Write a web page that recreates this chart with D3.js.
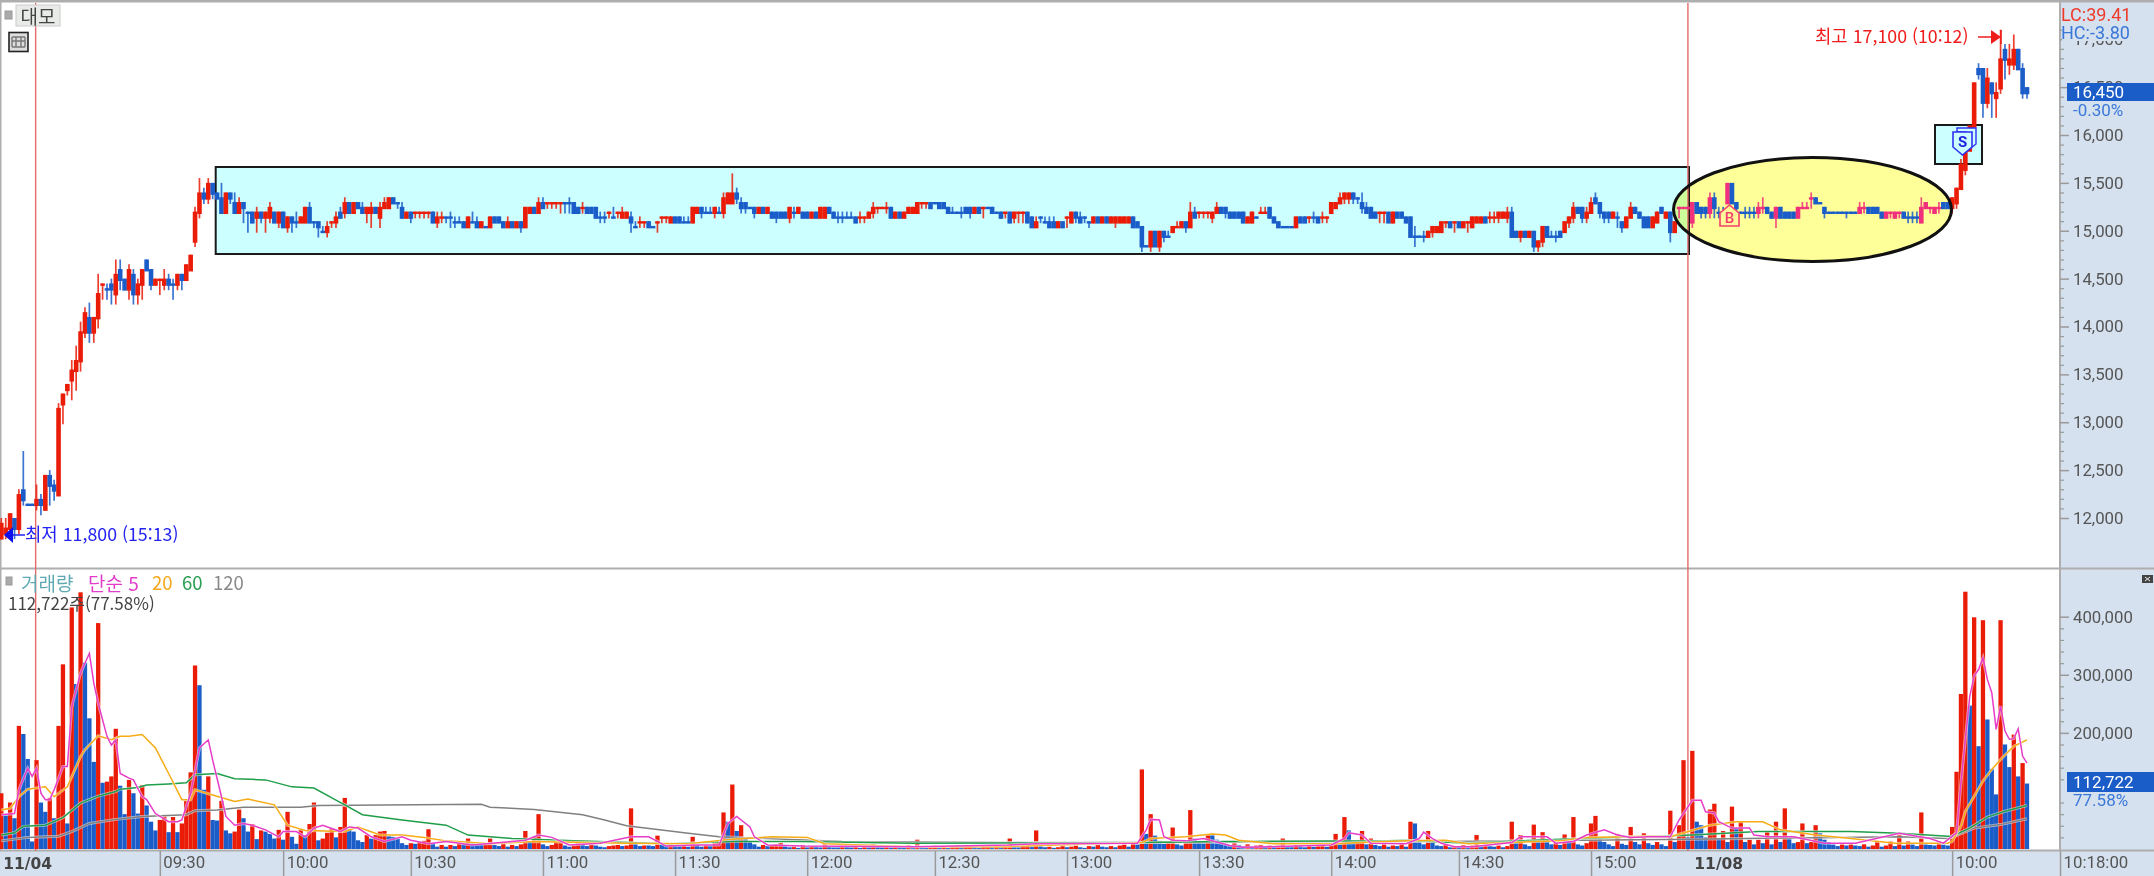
<!DOCTYPE html>
<html lang="ko"><head><meta charset="utf-8">
<script src="https://cdn.jsdelivr.net/npm/d3@7/dist/d3.min.js"></script>
<style>html,body{margin:0;padding:0;background:#fff}svg{display:block;filter:blur(.4px)}text{font-family:Roboto,"Noto Sans CJK KR",sans-serif}</style>
</head><body><svg id="c" width="2154" height="876"></svg>
<script>
const opens=[
11800,11850,11900,12000,11900,12300,12150,12150,12150,12200,
12100,12450,12350,12250,13200,13350,13450,13550,13650,13950,
14100,13950,14100,14450,14400,14450,14350,14600,14500,14400,
14550,14350,14450,14700,14600,14450,14500,14450,14500,14450,
14450,14550,14500,14600,14900,15200,15400,15350,15500,15400,
15350,15200,15400,15300,15200,15300,15200,15200,15150,15200,
15150,15150,15200,15100,15200,15050,15150,15100,15100,15100,
15250,15100,15100,15000,15000,15100,15100,15200,15200,15300,
15200,15300,15250,15200,15200,15250,15150,15250,15250,15350,
15300,15250,15150,15200,15200,15200,15200,15200,15200,15100,
15150,15150,15150,15100,15100,15100,15050,15100,15100,15050,
15050,15050,15150,15150,15100,15050,15100,15050,15100,15050,
15200,15250,15200,15300,15300,15300,15300,15300,15300,15300,
15300,15250,15250,15250,15250,15250,15150,15150,15200,15150,
15200,15150,15150,15150,15050,15100,15100,15100,15050,15100,
15150,15150,15100,15150,15150,15100,15100,15100,15200,15250,
15200,15200,15200,15200,15200,15300,15300,15400,15300,15300,
15250,15250,15200,15250,15200,15200,15200,15200,15200,15150,
15200,15200,15200,15200,15150,15200,15150,15150,15250,15200,
15150,15150,15150,15150,15150,15150,15150,15150,15200,15250,
15250,15250,15250,15150,15200,15150,15200,15200,15200,15300,
15300,15300,15300,15300,15300,15250,15200,15200,15200,15250,
15250,15200,15250,15250,15250,15250,15200,15200,15200,15200,
15150,15200,15200,15200,15150,15050,15150,15100,15100,15100,
15050,15100,15150,15100,15200,15150,15150,15100,15100,15150,
15100,15150,15100,15100,15100,15100,15100,15150,15100,15050,
14850,14850,15000,14850,15000,14950,15000,15050,15050,15100,
15050,15200,15200,15200,15200,15150,15200,15250,15250,15200,
15200,15200,15200,15100,15100,15150,15200,15200,15250,15150,
15100,15050,15050,15050,15050,15150,15150,15150,15150,15150,
15150,15150,15200,15250,15300,15350,15350,15400,15350,15300,
15250,15250,15200,15200,15200,15200,15100,15200,15200,15150,
15150,14950,14950,14950,14950,15000,15000,15000,15100,15100,
15100,15100,15050,15100,15050,15100,15100,15150,15150,15150,
15150,15150,15150,15200,15000,14950,15000,14950,15000,14850,
14900,15050,14950,14950,15000,15000,15100,15150,15250,15250,
15150,15200,15350,15300,15200,15200,15150,15150,15100,15050,
15150,15250,15200,15150,15150,15050,15100,15250,15150,15200,
15000,15250,15250,15250,15100,15300,15250,15250,15200,15350,
15200,15200,15300,15500,15300,15200,15200,15200,15200,15200,
15250,15250,15200,15150,15250,15200,15200,15200,15150,15250,
15250,15350,15350,15300,15250,15200,15200,15200,15200,15200,
15200,15200,15200,15250,15250,15250,15250,15200,15150,15200,
15150,15200,15200,15150,15150,15150,15100,15250,15250,15200,
15250,15300,15300,15250,15300,15450,15650,15850,16100,16700,
16700,16350,16550,16400,16500,16900,16750,16750,16900,16700,
16500];
const closes=[
11950,11900,12050,11900,12250,12200,12150,12150,12200,12150,
12450,12350,12300,13150,13300,13400,13550,13650,13950,14150,
13950,14100,14350,14450,14400,14400,14550,14500,14400,14600,
14350,14450,14600,14600,14450,14500,14500,14500,14450,14450,
14550,14500,14650,14750,15200,15400,15350,15500,15400,15350,
15200,15400,15350,15200,15300,15250,15200,15100,15200,15150,
15200,15250,15100,15200,15050,15150,15100,15100,15150,15250,
15100,15100,15050,15000,15050,15100,15150,15150,15300,15200,
15300,15250,15200,15250,15250,15200,15250,15300,15350,15300,
15300,15150,15200,15150,15200,15200,15200,15200,15100,15150,
15150,15150,15150,15100,15100,15050,15150,15100,15050,15100,
15050,15150,15100,15100,15050,15100,15050,15100,15050,15250,
15250,15200,15300,15250,15300,15300,15300,15300,15300,15300,
15200,15200,15250,15200,15200,15150,15150,15150,15200,15150,
15200,15200,15200,15100,15050,15100,15100,15050,15050,15100,
15150,15150,15150,15100,15100,15100,15100,15250,15250,15200,
15200,15200,15250,15200,15350,15400,15400,15350,15250,15250,
15250,15200,15250,15200,15250,15150,15150,15150,15150,15250,
15200,15250,15150,15150,15200,15150,15250,15250,15200,15150,
15150,15150,15150,15150,15100,15150,15150,15200,15250,15250,
15250,15250,15150,15200,15150,15200,15250,15250,15300,15300,
15300,15250,15300,15250,15250,15200,15200,15200,15200,15200,
15200,15250,15200,15250,15250,15200,15200,15150,15200,15100,
15200,15200,15200,15100,15050,15100,15150,15100,15050,15050,
15100,15050,15150,15200,15150,15100,15150,15100,15150,15100,
15150,15100,15150,15150,15150,15150,15150,15050,15050,14850,
14850,15000,14850,15000,14950,14950,15050,15050,15100,15050,
15200,15150,15200,15200,15200,15200,15250,15200,15200,15150,
15150,15150,15100,15150,15200,15150,15200,15200,15150,15100,
15050,15050,15050,15050,15150,15100,15100,15150,15150,15100,
15150,15150,15300,15300,15350,15400,15400,15350,15350,15250,
15200,15150,15150,15200,15200,15100,15200,15150,15150,15100,
14950,14950,14950,14950,15000,15050,15050,15100,15100,15050,
15100,15050,15100,15100,15150,15150,15150,15100,15150,15150,
15200,15200,15200,14950,14950,15000,14950,15000,14850,14900,
15050,14950,14950,14950,14950,15100,15150,15250,15200,15150,
15200,15300,15300,15200,15150,15150,15200,15150,15050,15150,
15250,15200,15150,15050,15050,15150,15200,15200,15200,15000,
15100,15250,15250,15250,15300,15200,15200,15200,15350,15250,
15200,15200,15500,15300,15250,15200,15200,15200,15200,15250,
15250,15200,15150,15250,15150,15150,15150,15150,15250,15250,
15250,15350,15300,15300,15200,15200,15200,15200,15200,15200,
15200,15200,15250,15250,15200,15200,15200,15150,15200,15200,
15200,15200,15150,15150,15150,15150,15250,15300,15250,15250,
15250,15250,15250,15350,15450,15700,15850,16100,16550,16650,
16350,16600,16450,16450,16800,16800,16800,16900,16700,16450,
16450];
const highs=[
12000,12000,12050,12000,12300,12700,12150,12150,12350,12250,
12450,12500,12400,13200,13300,13400,13650,13800,14050,14200,
14250,14100,14550,14450,14450,14500,14700,14700,14500,14650,
14600,14500,14600,14700,14600,14500,14500,14600,14550,14500,
14550,14550,14650,14750,15250,15550,15450,15550,15500,15400,
15500,15400,15400,15400,15350,15300,15200,15200,15250,15200,
15200,15300,15200,15200,15200,15150,15150,15200,15150,15250,
15300,15100,15100,15050,15100,15100,15200,15250,15350,15300,
15300,15300,15300,15250,15300,15250,15300,15350,15350,15350,
15300,15300,15200,15200,15200,15200,15200,15200,15200,15200,
15200,15150,15200,15150,15150,15100,15150,15200,15150,15100,
15050,15150,15150,15150,15100,15150,15100,15100,15100,15250,
15250,15250,15350,15350,15300,15300,15300,15300,15300,15350,
15300,15250,15300,15250,15250,15250,15200,15200,15200,15250,
15200,15250,15200,15200,15100,15150,15100,15100,15050,15100,
15150,15150,15150,15150,15150,15150,15150,15250,15250,15250,
15250,15250,15250,15250,15400,15400,15600,15450,15350,15300,
15250,15250,15250,15250,15250,15200,15200,15200,15200,15250,
15250,15250,15200,15200,15200,15200,15250,15250,15250,15200,
15200,15200,15200,15200,15150,15200,15150,15200,15300,15250,
15250,15300,15250,15200,15200,15200,15250,15250,15300,15300,
15300,15300,15300,15300,15300,15250,15250,15200,15250,15250,
15250,15250,15250,15250,15250,15250,15200,15200,15200,15200,
15200,15200,15200,15200,15150,15150,15150,15150,15150,15150,
15100,15100,15150,15200,15200,15200,15150,15100,15150,15150,
15150,15150,15150,15150,15150,15150,15150,15150,15100,15050,
14850,15000,15000,15000,15000,15000,15050,15100,15100,15100,
15300,15250,15200,15200,15200,15200,15300,15250,15250,15200,
15200,15200,15200,15150,15200,15150,15250,15250,15250,15150,
15100,15050,15050,15050,15150,15150,15150,15150,15200,15150,
15200,15150,15300,15300,15400,15400,15400,15400,15350,15400,
15300,15250,15200,15200,15200,15200,15200,15200,15200,15150,
15150,15050,14950,15000,15000,15050,15050,15100,15100,15100,
15100,15100,15100,15100,15150,15150,15150,15150,15200,15200,
15200,15200,15250,15250,15000,15000,15000,15000,15000,14900,
15050,15050,15000,15000,15000,15100,15150,15300,15250,15250,
15250,15350,15400,15300,15200,15200,15200,15200,15100,15150,
15300,15250,15200,15150,15150,15150,15200,15250,15200,15200,
15100,15250,15250,15250,15300,15300,15250,15250,15400,15400,
15250,15250,15500,15500,15300,15200,15250,15250,15250,15300,
15350,15250,15200,15250,15250,15200,15200,15200,15250,15300,
15300,15400,15350,15300,15250,15200,15200,15200,15200,15200,
15200,15200,15300,15300,15250,15250,15250,15200,15200,15200,
15200,15200,15200,15200,15200,15200,15350,15300,15250,15250,
15300,15300,15300,15350,15450,15750,15850,16100,16550,16750,
16700,16700,16550,16550,17100,16950,16950,17050,16900,16750,
16500];
const lows=[
11800,11800,11850,11800,11850,12150,12150,12150,12100,12050,
12100,12150,12200,12250,13000,13300,13250,13350,13550,13900,
13850,13850,14000,14300,14300,14250,14250,14400,14400,14300,
14250,14250,14300,14600,14400,14450,14350,14400,14400,14300,
14400,14400,14500,14600,14850,15150,15300,15300,15350,15350,
15200,15200,15300,15200,15200,15100,15000,15100,15000,15100,
15000,15100,15100,15050,15050,15000,15000,15050,15100,15100,
15100,15050,14950,15000,14950,15050,15050,15150,15150,15200,
15200,15250,15200,15100,15050,15200,15050,15250,15250,15300,
15250,15150,15150,15100,15150,15150,15150,15150,15100,15050,
15100,15100,15050,15050,15100,15050,15050,15100,15050,15050,
15050,15050,15100,15100,15050,15050,15050,15050,15000,15050,
15200,15200,15200,15250,15250,15250,15250,15200,15200,15200,
15200,15200,15200,15200,15200,15150,15100,15100,15150,15150,
15150,15150,15150,15000,15050,15050,15050,15050,15050,15000,
15100,15100,15100,15100,15100,15100,15100,15100,15200,15150,
15200,15200,15150,15200,15150,15300,15300,15300,15200,15200,
15250,15150,15200,15200,15200,15150,15100,15150,15150,15100,
15150,15200,15150,15150,15150,15150,15150,15150,15200,15150,
15100,15100,15150,15150,15100,15100,15100,15150,15150,15200,
15250,15200,15150,15150,15150,15150,15200,15200,15200,15250,
15250,15250,15300,15250,15250,15200,15200,15200,15150,15200,
15150,15200,15200,15150,15250,15200,15200,15150,15150,15100,
15100,15100,15100,15100,15050,15050,15100,15100,15050,15050,
15050,15050,15050,15100,15100,15100,15100,15050,15100,15100,
15100,15100,15100,15050,15100,15100,15100,15050,15050,14800,
14850,14800,14850,14800,14900,14950,15000,15050,15050,15000,
15050,15150,15150,15150,15150,15100,15200,15200,15150,15150,
15150,15150,15100,15100,15100,15150,15200,15200,15150,15100,
15050,15050,15050,15050,15050,15100,15100,15100,15100,15100,
15100,15100,15200,15250,15300,15300,15300,15300,15300,15200,
15200,15150,15150,15100,15100,15100,15100,15150,15150,15100,
14950,14850,14950,14900,14950,14950,15000,15000,15050,15050,
15000,15050,15050,15000,15050,15100,15100,15100,15100,15100,
15100,15150,15100,14950,14950,14900,14950,14950,14800,14800,
14850,14950,14950,14900,14950,15000,15050,15100,15200,15100,
15100,15200,15300,15150,15100,15100,15150,15050,15000,15050,
15150,15200,15150,15050,15050,15050,15100,15200,15150,14900,
15000,15150,15250,15250,15050,15200,15150,15150,15150,15150,
15150,15150,15300,15300,15150,15200,15150,15150,15150,15150,
15200,15200,15150,15050,15150,15150,15150,15150,15150,15250,
15250,15250,15300,15300,15150,15200,15200,15200,15200,15150,
15200,15200,15200,15200,15200,15200,15200,15150,15150,15150,
15150,15150,15150,15100,15100,15100,15100,15250,15200,15200,
15200,15250,15250,15200,15250,15450,15600,15850,16100,16600,
16200,16300,16200,16200,16450,16600,16650,16700,16700,16400,
16400];
// bars whose open equals close but which printed as an up tick
const upDoji=[23,36,75,94,95,96,97,100,124,125,126,127,132,138,140,145,146,149,150,151,195,196,199,200,201,209,210,223,228,231,232,242,267,272,273,274,286,287,297,300,301,313,314,328,330,333,338,339,381,382,383,400,409,410,411,423,429,431,438,440];
// volume in thousands of shares
const volumes=[
96,58,80,53,212,198,155,13,153,80,
64,88,53,212,318,44,416,284,442,321,
225,150,389,114,116,125,207,109,60,119,
96,61,110,75,47,32,50,56,29,55,
29,44,83,132,316,282,102,125,50,49,
83,32,27,30,68,53,30,43,17,32,
30,26,18,33,16,64,21,9,33,24,
43,80,15,18,28,35,20,38,88,34,
30,15,12,24,18,24,30,31,22,21,
18,10,7,10,9,12,14,34,10,4,
7,4,7,5,10,8,18,10,8,7,
10,18,7,5,10,4,7,5,8,31,
12,21,60,8,5,7,12,15,6,4,
6,10,8,5,7,6,4,3,5,6,
7,5,6,70,10,5,6,6,5,23,
8,6,10,7,5,6,4,21,7,4,
6,5,10,12,63,47,111,31,41,20,
12,8,4,7,5,6,8,10,5,3,
4,2,7,3,5,4,3,8,5,3,
3,5,4,3,6,2,4,3,8,4,
3,5,3,6,4,3,7,4,16,5,
3,4,6,3,5,2,4,6,3,4,
5,3,2,4,6,3,4,3,5,18,
4,3,5,6,4,32,5,3,4,2,
3,5,3,4,6,3,2,5,4,7,
4,3,5,3,6,8,4,12,8,137,
26,60,23,14,9,12,37,8,6,12,
67,18,14,10,24,24,16,12,8,6,
10,7,5,8,4,6,7,5,6,4,
6,18,5,4,7,5,3,6,4,5,
7,4,6,26,8,55,32,10,14,31,
8,18,7,5,8,4,6,5,10,4,
47,44,14,8,31,14,6,5,8,3,
5,4,7,3,6,24,4,7,5,4,
6,3,5,47,10,24,8,5,42,14,
29,12,8,10,7,25,14,55,8,6,
10,44,57,18,12,8,5,26,9,7,
38,12,8,27,10,7,12,8,5,66,
12,41,153,20,169,47,41,20,68,78,
18,31,12,73,36,47,12,16,8,16,
10,30,8,47,12,70,18,10,12,44,
10,12,41,27,16,12,8,5,8,6,
8,6,5,8,4,6,13,4,6,13,
5,25,6,13,8,5,63,8,7,6,
13,8,6,38,133,267,443,247,399,177,
394,223,138,94,394,180,141,197,125,148,112.722];
const ma5Bars=[0,3,4,6,7,8,9,10,11,12,14,15,16,18,20,21,22,24,25,26,27,29,30,32,33,35,38,40,41,43,45,47,48,50,51,53,55,57,60,63,64,67,69,71,73,77,79,81,84,87,91,93,97,101,107,119,122,125,129,136,143,147,151,158,163,165,167,170,171,174,182,207,229,235,258,260,261,263,264,266,269,273,276,279,282,288,302,305,306,309,311,319,322,323,325,327,330,334,343,345,351,353,357,360,364,367,370,374,379,381,384,386,387,389,390,393,397,398,401,407,414,421,431,438,441,444,445,446,447,448,449,450,451,452,453,454,455,456,457,458,459,460];
const ma5Vals=[59,61,102,139,125,139,96,85,85,102,142,142,245,303,337,286,251,194,179,188,130,122,119,90,85,61,47,47,50,96,174,188,153,90,56,41,44,41,33,21,30,30,21,36,41,30,38,36,21,13,21,15,9,13,7,15,24,20,7,10,21,21,5,7,7,44,56,38,21,7,5,4,7,9,10,33,51,50,21,15,14,18,12,6,3,4,7,18,28,24,10,9,18,29,18,10,4,4,11,21,21,10,13,24,33,24,20,21,21,50,84,84,64,62,47,36,36,24,21,21,10,10,27,18,10,28,114,189,263,298,309,329,292,269,206,246,203,189,190,207,160,148];
const ma20Bars=[0,2,4,6,10,12,15,18,19,22,25,27,29,32,35,38,41,43,44,48,53,56,62,65,69,78,81,86,91,96,101,111,121,142,156,166,175,183,187,207,227,259,261,269,275,278,281,289,303,309,319,328,333,354,360,374,379,388,394,400,404,412,420,430,442,443,445,446,448,450,452,454,457,460];
const ma20Vals=[67,70,90,103,107,90,107,159,171,195,188,194,194,197,174,130,85,85,102,93,82,86,76,41,32,30,38,24,24,20,14,9,13,10,9,17,21,20,9,4,4,11,18,21,26,24,15,9,9,11,14,15,9,14,20,22,21,41,47,47,33,24,18,10,10,13,39,65,91,117,137,154,177,188];
const ma60Bars=[0,3,5,10,14,18,22,26,27,31,33,38,42,44,49,53,60,66,71,76,78,82,91,101,106,116,130,152,166,181,207,258,278,315,319,333,354,384,399,420,431,442,443,447,451,455,460];
const ma60Vals=[24,28,39,41,54,79,91,99,103,106,110,112,114,128,130,121,119,107,105,84,76,59,50,41,24,18,14,9,13,13,10,11,13,14,15,10,17,24,30,30,27,22,22,36,55,65,75];
const ma120Bars=[0,6,13,16,20,26,32,42,44,49,55,68,72,109,111,121,132,137,142,156,163,191,227,258,315,328,384,431,442,443,448,454,460];
const ma120Vals=[14,20,22,30,44,51,56,59,66,67,72,72,75,77,72,68,59,50,40,27,21,13,11,11,13,13,17,21,18,20,36,42,52];
const priceTicks=[12000,12500,13000,13500,14000,14500,15000,15500,16000,16500,17000];
const volumeTicks=[200,300,400];
const timeBars=[36,64,93,123,153,183,212,242,272,302,331,361,443,467.5];
const timeLabels=["09:30","10:00","10:30","11:00","11:30","12:00","12:30","13:00","13:30","14:00","14:30","15:00","10:00","10:18:00"];
const dateBars=[0,384];
const dateLabels=["11/04","11/08"];
const sessionBars=[7.8,383];

const RED="#ea1c08",BLUE="#1a5cc8",PINK="#f0307c",PANEL="#d6e1ef",GRID="#aeaeae";
const svg=d3.select("#c");
const x=d3.scaleLinear().domain([0,460]).range([1.3,2027]);
const y=d3.scaleLinear().domain([12000,16000]).range([518,135]);
const yV=d3.scaleLinear().domain([0,400]).range([849,616.7]);
const n=opens.length;
const isUp=i=>closes[i]>opens[i]||(closes[i]===opens[i]&&upDoji.includes(i));
const pinkZone=i=>i>=381&&i<=442;
const candleColor=i=>isUp(i)?(pinkZone(i)?PINK:RED):BLUE;

// panels
svg.append("rect").attr("x",2060).attr("y",0).attr("width",94).attr("height",876).attr("fill",PANEL);
svg.append("rect").attr("x",0).attr("y",851).attr("width",2154).attr("height",25).attr("fill",PANEL);
svg.append("rect").attr("x",0).attr("y",0).attr("width",2154).attr("height",2.5).attr("fill",GRID);
svg.append("rect").attr("x",0).attr("y",0).attr("width",1.5).attr("height",851).attr("fill",GRID);
svg.append("rect").attr("x",0).attr("y",567.5).attr("width",2154).attr("height",2).attr("fill",GRID);
svg.append("rect").attr("x",0).attr("y",849.5).attr("width",2154).attr("height",2).attr("fill",GRID);
svg.append("rect").attr("x",2059).attr("y",0).attr("width",2).attr("height",851).attr("fill",GRID);

// overlay boxes
const boxStyle=s=>s.attr("fill","#ccffff").attr("stroke","#1a1a1a").attr("stroke-width",2);
svg.append("rect").attr("x",215.7).attr("y",167).attr("width",1473.3).attr("height",87).call(boxStyle);
svg.append("rect").attr("x",1935).attr("y",125).attr("width",47).attr("height",39).call(boxStyle);
const ell={cx:1812.5,cy:209.5,rx:139,ry:52};
svg.append("ellipse").attr("cx",ell.cx).attr("cy",ell.cy).attr("rx",ell.rx).attr("ry",ell.ry).attr("fill","#ffff99").style("mix-blend-mode","multiply");

// session lines
svg.selectAll("line.session").data(sessionBars).join("line").attr("class","session")
 .attr("x1",d=>x(d)).attr("x2",d=>x(d)).attr("y1",3).attr("y2",851).attr("stroke","#e56a6a").attr("stroke-width",1.4);

// candles
const idx=d3.range(n);
svg.append("g").selectAll("line").data(idx).join("line")
 .attr("x1",i=>x(i)).attr("x2",i=>x(i)).attr("y1",i=>y(highs[i])).attr("y2",i=>y(lows[i])+2)
 .attr("stroke",candleColor).attr("stroke-width",1.7).attr("stroke-opacity",.85);
svg.append("g").selectAll("rect").data(idx).join("rect")
 .attr("x",i=>x(i)-2.3).attr("width",4.6)
 .attr("y",i=>y(Math.max(opens[i],closes[i])))
 .attr("height",i=>Math.abs(y(opens[i])-y(closes[i]))+2.4)
 .attr("fill",candleColor);
svg.append("ellipse").attr("cx",ell.cx).attr("cy",ell.cy).attr("rx",ell.rx).attr("ry",ell.ry).attr("fill","none").attr("stroke","#111").attr("stroke-width",3);

// volume bars: red when volume rose from the previous bar, blue when it fell
svg.append("g").selectAll("rect").data(idx).join("rect")
 .attr("x",i=>x(i)-2.15).attr("width",4.3)
 .attr("y",i=>yV(volumes[i])).attr("height",i=>yV(0)-yV(volumes[i]))
 .attr("fill",i=>i>0&&volumes[i]<=volumes[i-1]?BLUE:RED);

// volume moving averages
const ln=(bars,vals)=>d3.line().x(d=>x(d)).y((d,k)=>yV(vals[k]))(bars);
[[ma120Bars,ma120Vals,"#808080"],[ma60Bars,ma60Vals,"#1f9e4a"],[ma20Bars,ma20Vals,"#f7ab14"],[ma5Bars,ma5Vals,"#e63cc8"]].forEach(([b,v,c])=>{
 svg.append("path").attr("d",ln(b,v)).attr("fill","none").attr("stroke","#fff").attr("stroke-opacity",.55).attr("stroke-width",3);
 svg.append("path").attr("d",ln(b,v)).attr("fill","none").attr("stroke",c).attr("stroke-width",1.5);
});

// price axis
const AX="#555";
const fmt=d3.format(",");
const styleAxis=g=>{g.select(".domain").remove();g.selectAll(".tick line").attr("stroke","#9a9a9a").attr("stroke-width",1.5);
 g.selectAll(".tick text").attr("fill",AX).attr("font-size",16.8).attr("font-family","Roboto");};
svg.append("g").attr("transform","translate(2060,0)")
 .call(d3.axisRight(y).tickValues(d3.range(12000,17200,100).filter(v=>v%500!==0)).tickSize(4).tickFormat(""))
 .call(g=>{g.select(".domain").remove();g.selectAll("line").attr("stroke","#9a9a9a").attr("stroke-width",1.2);});
svg.append("g").attr("transform","translate(2060,0)")
 .call(d3.axisRight(y).tickValues(priceTicks).tickSize(9).tickPadding(4).tickFormat(fmt)).call(styleAxis);
svg.append("g").attr("transform","translate(2060,0)")
 .call(d3.axisRight(yV).tickValues(d3.range(20,420,20).filter(v=>v%100!==0)).tickSize(4).tickFormat(""))
 .call(g=>{g.select(".domain").remove();g.selectAll("line").attr("stroke","#9a9a9a").attr("stroke-width",1.2);});
svg.append("g").attr("transform","translate(2060,0)")
 .call(d3.axisRight(yV).tickValues(volumeTicks).tickSize(9).tickPadding(4).tickFormat(d=>fmt(d*1000))).call(styleAxis);

// time axis
svg.append("g").attr("transform","translate(0,851)")
 .call(d3.axisBottom(x).tickValues(timeBars).tickSize(25).tickPadding(0).tickFormat((d,k)=>timeLabels[k]))
 .call(g=>{g.select(".domain").remove();g.selectAll(".tick line").attr("stroke","#9a9a9a").attr("stroke-width",1.5);
  g.selectAll(".tick text").attr("fill",AX).attr("font-size",16.8).attr("text-anchor","start").attr("x",3).attr("y",5).attr("dy",".71em");});
svg.append("g").selectAll("text").data(dateBars).join("text")
 .attr("x",d=>x(d)+2).attr("y",869).attr("font-size",15.5).attr("font-weight",700).attr("fill","#444")
 .style("font-family","DejaVu Sans").text((d,k)=>dateLabels[k]);

// price flags on the right
const T=(xx,yy,s,c,o={})=>svg.append("text").attr("x",xx).attr("y",yy).attr("fill",c).attr("font-size",o.size||17).attr("font-weight",o.w||400)
 .attr("text-anchor",o.a||"start").attr("dominant-baseline","central").style("font-family",o.f||"Roboto").text(s);
svg.append("rect").attr("x",2062).attr("y",3).attr("width",92).attr("height",38).attr("fill",PANEL);
T(2061,14,"LC:39.41","#ee3a2a",{size:18});
T(2061,32,"HC:-3.80","#3a78d8",{size:18});
svg.append("rect").attr("x",2067).attr("y",83).attr("width",87).attr("height",18).attr("fill",BLUE);
T(2073,92,"16,450","#fff",{size:17});
T(2073,110,"-0.30%","#3a78d8",{size:17});
svg.append("rect").attr("x",2067).attr("y",772).attr("width",87).attr("height",20).attr("fill",BLUE);
T(2073,782,"112,722","#fff",{size:17});
T(2073,800,"77.58%","#3a78d8",{size:17});
svg.append("rect").attr("x",2142).attr("y",575).attr("width",11).attr("height",8).attr("fill","#444");
svg.append("path").attr("d","M2145 577L2150 581M2150 577L2145 581").attr("stroke","#eee").attr("stroke-width",1);

// high and low notes
const KR='"Noto Sans CJK KR"';
T(1815,35,"최고 17,100 (10:12)","#f01c1c",{size:17.8,f:KR});
svg.append("path").attr("d","M1978 37H1992").attr("stroke","#f01c1c").attr("stroke-width",1.5);
svg.append("path").attr("d","M1991 30L2001 37L1991 44Z").attr("fill","#f01c1c");
svg.append("path").attr("d","M2001 30V44").attr("stroke","#f01c1c").attr("stroke-width",1.5);
T(25,533,"최저 11,800 (15:13)","#2424f0",{size:17.8,f:KR});
svg.append("path").attr("d","M12 535H25").attr("stroke","#2020f0").attr("stroke-width",1.5);
svg.append("path").attr("d","M4 535L13 527V543Z").attr("fill","#1010ee");

// buy and sell markers
svg.append("path").attr("d","M1729.5 205L1739 213V226H1720V213Z").attr("fill","#fff79a").attr("stroke","#f4406c").attr("stroke-width",1.6);
T(1729.5,218,"B","#f4406c",{size:15,a:"middle",w:500});
svg.append("path").attr("d","M1957 128H1976V144L1966 152V132H1957Z").attr("fill","#ccffff").attr("stroke","#3030f0").attr("stroke-width",1.4);
svg.append("path").attr("d","M1953 132H1972V147L1962.5 155L1953 147Z").attr("fill","#ccffff").attr("stroke","#3030f0").attr("stroke-width",1.6);
T(1962.5,142,"S","#2020e0",{size:15,a:"middle",w:700});

// top-left controls
svg.append("rect").attr("x",5).attr("y",11).attr("width",7).attr("height",8).attr("fill","#aaa").attr("stroke","#999");
svg.append("rect").attr("x",16).attr("y",5).attr("width",44).attr("height",21).attr("fill","#e8ebe8").attr("stroke","#ccc");
T(38,15.5,"대모","#444",{size:19,a:"middle",f:KR});
svg.append("rect").attr("x",9).attr("y",32.5).attr("width",19).attr("height",19).attr("fill","#ddd").attr("stroke","#222").attr("stroke-width",1.6);
svg.append("path").attr("d","M12 37H25M12 41H25M12 47H25M16 37V47M21 37V47M12 37V47M25 37V47").attr("stroke","#777").attr("stroke-width",1.4).attr("fill","none");

// volume legend
svg.append("rect").attr("x",6).attr("y",577).attr("width",6).attr("height",8).attr("fill","#aaa").attr("stroke","#999");
[[21,"거래량","#5fa9b2",19],[88,"단순 5","#e23cc8",19],[152,"20","#f5a81e",18.5],[182,"60","#2a9e52",18.5],[213,"120","#8a8a8a",18.5]]
 .forEach(([a,s,c,z])=>T(a,582,s,c,{size:z,f:KR}));
T(8,602,"112,722주(77.58%)","#444",{size:17,f:KR});
</script></body></html>
